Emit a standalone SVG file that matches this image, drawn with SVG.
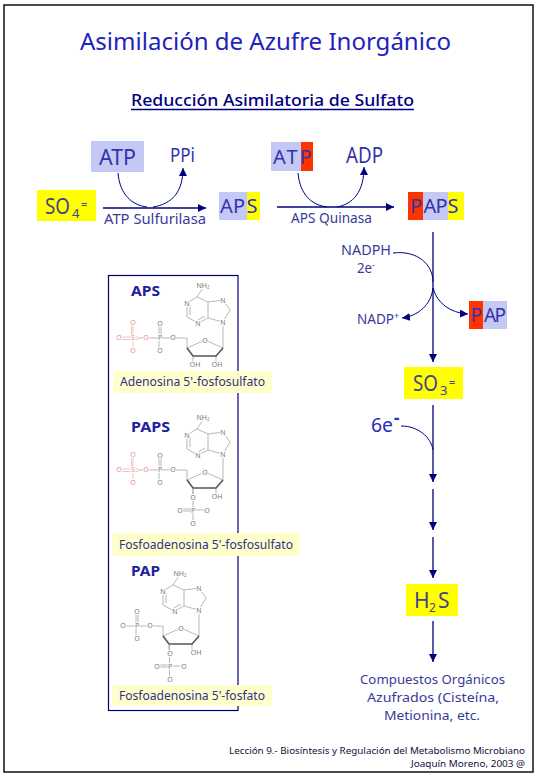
<svg xmlns="http://www.w3.org/2000/svg" width="540" height="780" viewBox="0 0 540 780">
<style>
text{font-family:"Noto Sans","DejaVu Sans",sans-serif;fill:#3333aa}
.big{font-size:21px}
.mid{font-size:14px;fill:#3a3a9a}
.cp{font-size:13px;fill:#3a3a9a}
.lab{font-size:13px;fill:#303088}
.hd{font-size:14px;font-weight:bold;fill:#2020a0}
.ft{font-size:9.500px;fill:#101040}
.at{font-size:7px;fill:#777;text-anchor:middle;paint-order:stroke;stroke:#fff;stroke-width:2px}
.rd{fill:#e88}
.bl{fill:#c4c8f4}.ye{fill:#ff0}.re{fill:#ff3300}.pa{fill:#ffffcc}
.cn{fill:none;stroke:#00007f;stroke-width:1.3}
.th{fill:none;stroke:#00007f;stroke-width:1}
.mb{fill:none;stroke:#999;stroke-width:.7}
.mr{fill:none;stroke:#eaa;stroke-width:.7}
.bd{fill:none;stroke:#555;stroke-width:1.600}
</style>
<defs>
<marker id="ah" markerUnits="userSpaceOnUse" markerWidth="9" markerHeight="9" refX="8" refY="4" orient="auto"><path d="M0 0L8 4L0 8Z" fill="#00007f"/></marker>
<g id="adeno">
<path class="mb" d="M203 288L197 297L187 303V317L198 323L208 318V302L197 297M190 305V315M198 320L205 316M208 302L223 300L230 310L223 322L208 318M223 322V348L205 340L187 348V338H173M193 356V362M216 356V362"/>
<path class="bd" d="M187 348L193 356H216L223 348"/>
</g>
</defs>
<rect width="540" height="780" fill="#fff"/>
<rect x="4" y="5" width="529" height="767" fill="none" stroke="#111" stroke-width="1.5"/>

<g id="title"><text x="80" y="50" font-size="24" textLength="371" lengthAdjust="spacingAndGlyphs" style="fill:#2222bb">Asimilación de Azufre Inorgánico</text></g>
<g id="subtitle"><text x="131" y="106" font-size="16" textLength="283" lengthAdjust="spacingAndGlyphs" style="fill:#000080;font-weight:500">Reducción Asimilatoria de Sulfato</text><path d="M131 109.500H414" stroke="#000080" stroke-width="1.3"/></g>

<g id="connectors">
<path class="cn" marker-end="url(#ah)" d="M103 208H206"/>
<path class="th" d="M118 173C120 195 132 205 147 207"/>
<path class="th" marker-end="url(#ah)" d="M153 207C172 204 183 192 183 168"/>
<path class="cn" marker-end="url(#ah)" d="M277 207H394"/>
<path class="th" d="M298 173C300 195 312 205 327 207"/>
<path class="th" marker-end="url(#ah)" d="M337 207C353 204 364 192 364 167"/>
<path class="cn" marker-end="url(#ah)" d="M433 232V362"/>
<path class="th" d="M393 253C418 250 433 265 433 282"/>
<path class="th" marker-end="url(#ah)" d="M433 288C431 305 418 316 402 318"/>
<path class="th" marker-end="url(#ah)" d="M433 288C437 303 450 313 468 314"/>
<path class="cn" marker-end="url(#ah)" d="M433 405V482"/>
<path class="th" d="M401 426C418 426 431 437 433 450"/>
<path class="cn" marker-end="url(#ah)" d="M433 489V530"/>
<path class="cn" marker-end="url(#ah)" d="M433 537V578"/>
<path class="cn" marker-end="url(#ah)" d="M433 621V662"/>
</g>

<g id="atp1"><rect class="bl" x="91" y="141" width="53" height="31"/><text class="big" x="99" y="165" textLength="37" lengthAdjust="spacingAndGlyphs">ATP</text></g>
<g id="ppi"><text x="170" y="162" font-size="19" textLength="25" lengthAdjust="spacingAndGlyphs">PPi</text></g>
<g id="so4"><rect class="ye" x="37" y="190" width="59" height="31"/><text class="big" x="45" y="214" textLength="25" lengthAdjust="spacingAndGlyphs" style="fill:#444488">SO</text><text x="72" y="218" font-size="13" style="fill:#444488">4</text><text x="81" y="208" font-size="11" style="fill:#444488">=</text></g>
<g id="aps"><rect class="bl" x="219" y="192" width="28" height="28"/><rect class="ye" x="247" y="192" width="13" height="28"/><text class="big" x="220 233 246.500" y="213" style="font-size:20px">APS</text></g>
<g id="atp-sulfurilasa"><text class="mid" x="104" y="224" textLength="102" lengthAdjust="spacingAndGlyphs">ATP Sulfurilasa</text></g>
<g id="atp2"><rect class="bl" x="271" y="142" width="30" height="29"/><rect class="re" x="301" y="142" width="12" height="29"/><text class="big" x="273 286.500 299.500" y="164" style="font-size:20px">ATP</text></g>
<g id="adp"><text class="big" x="346" y="163" textLength="37" lengthAdjust="spacingAndGlyphs">ADP</text></g>
<g id="aps-quinasa"><text class="mid" x="291" y="223" textLength="81" lengthAdjust="spacingAndGlyphs">APS Quinasa</text></g>
<g id="paps"><rect class="re" x="408" y="192" width="15" height="28"/><rect class="bl" x="423" y="192" width="25" height="28"/><rect class="ye" x="448" y="192" width="16" height="28"/><text class="big" x="410 423.500 435.500 447.500" y="213" style="font-size:20px">PAPS</text></g>
<g id="nadph"><text class="mid" x="341" y="255" textLength="50" lengthAdjust="spacingAndGlyphs">NADPH</text></g>
<g id="e2"><text class="mid" x="357" y="273" textLength="15" lengthAdjust="spacingAndGlyphs">2e</text><text class="mid" x="372" y="268" style="font-size:9px">-</text></g>
<g id="nadp"><text class="mid" x="357" y="324" textLength="37" lengthAdjust="spacingAndGlyphs">NADP</text><text class="mid" x="394" y="319" style="font-size:9px">+</text></g>
<g id="pap"><rect class="re" x="469" y="301" width="14" height="28"/><rect class="bl" x="483" y="301" width="24" height="28"/><text x="470.500 484 494.500" y="322" font-size="19">PAP</text></g>
<g id="so3"><rect class="ye" x="404" y="367" width="59" height="32"/><text class="big" x="413" y="391" textLength="25" lengthAdjust="spacingAndGlyphs" style="fill:#444488">SO</text><text x="440" y="395" font-size="13" style="fill:#444488">3</text><text x="449" y="386" font-size="11" style="fill:#444488">=</text></g>
<g id="e6"><text x="371" y="432" font-size="19" textLength="22" lengthAdjust="spacingAndGlyphs" style="fill:#2a2ab8">6e</text><text x="394" y="424" font-size="17" font-weight="bold" style="fill:#2a2ab8">-</text></g>
<g id="h2s"><rect class="ye" x="406" y="584" width="52" height="32"/><text class="big" x="414" y="608" style="fill:#444488">H</text><text x="429" y="612" font-size="12" style="fill:#444488">2</text><text class="big" x="438" y="608" style="fill:#444488">S</text></g>
<g id="compuestos">
<text class="cp" x="360" y="684" textLength="145" lengthAdjust="spacingAndGlyphs">Compuestos Orgánicos</text>
<text class="cp" x="367" y="702" textLength="132" lengthAdjust="spacingAndGlyphs">Azufrados (Cisteína,</text>
<text class="cp" x="384" y="720" textLength="96" lengthAdjust="spacingAndGlyphs">Metionina, etc.</text>
</g>

<g id="panel"><rect x="108.500" y="275.500" width="129.500" height="435" fill="none" stroke="#00007f" stroke-width="1.2"/></g>

<g id="mol-aps">
<text class="hd" x="131" y="296" textLength="29" lengthAdjust="spacingAndGlyphs">APS</text>
<use href="#adeno"/>
<path class="mr" d="M122 337H138M122 339.500H138M133 326V348M131.500 326V336"/>
<path class="mb" d="M138 338H173M159 326V350M161 326V336"/>
<text class="at" x="203" y="288">NH₂</text><text class="at" x="187" y="306">N</text><text class="at" x="198" y="326">N</text><text class="at" x="223" y="303">N</text><text class="at" x="223" y="325">N</text><text class="at" x="205" y="343">O</text><text class="at" x="195" y="367">OH</text><text class="at" x="217" y="367">OH</text>
<text class="at rd" x="119" y="340">O</text><text class="at rd" x="133" y="340">S</text><text class="at rd" x="133" y="325">O</text><text class="at rd" x="133" y="353">O</text><text class="at rd" x="146" y="340">O</text>
<text class="at" x="160" y="340">P</text><text class="at" x="173" y="340">O</text><text class="at" x="160" y="326">O</text><text class="at" x="160" y="353">O</text>
</g>
<g id="label-aps"><rect class="pa" x="113" y="371" width="159" height="22"/><text class="lab" x="120" y="386" textLength="145" lengthAdjust="spacingAndGlyphs">Adenosina 5'-fosfosulfato</text></g>

<g id="mol-paps">
<text class="hd" x="131" y="432" textLength="39" lengthAdjust="spacingAndGlyphs">PAPS</text>
<use href="#adeno" transform="translate(0 132)"/>
<path class="mr" d="M122 469H138M122 471.500H138M133 458V480M131.500 458V468"/>
<path class="mb" d="M138 470H173M159 458V482M161 458V468M193 488V523M180 509H193M180 511H193M193 510H207"/>
<text class="at" x="203" y="420">NH₂</text><text class="at" x="187" y="438">N</text><text class="at" x="198" y="458">N</text><text class="at" x="223" y="435">N</text><text class="at" x="223" y="457">N</text><text class="at" x="205" y="475">O</text><text class="at" x="217" y="499">OH</text>
<text class="at rd" x="119" y="472">O</text><text class="at rd" x="133" y="472">S</text><text class="at rd" x="133" y="457">O</text><text class="at rd" x="133" y="485">O</text><text class="at rd" x="146" y="472">O</text>
<text class="at" x="160" y="472">P</text><text class="at" x="173" y="472">O</text><text class="at" x="160" y="458">O</text><text class="at" x="160" y="485">O</text>
<text class="at" x="193" y="500">O</text><text class="at" x="193" y="513">P</text><text class="at" x="180" y="513">O</text><text class="at" x="207" y="513">O</text><text class="at" x="193" y="526">O</text>
</g>
<g id="label-paps"><rect class="pa" x="112" y="533" width="188" height="23"/><text class="lab" x="119" y="549" textLength="174" lengthAdjust="spacingAndGlyphs">Fosfoadenosina 5'-fosfosulfato</text></g>

<g id="mol-pap">
<text class="hd" x="131" y="576" textLength="29" lengthAdjust="spacingAndGlyphs">PAP</text>
<use href="#adeno" transform="translate(-24 288)"/>
<path class="mb" d="M125 626H149M136 614V637M138 614V624M169.500 644V679M157 665H170M157 667H170M170 666H184"/>
<text class="at" x="180" y="576">NH₂</text><text class="at" x="163" y="594">N</text><text class="at" x="175" y="614">N</text><text class="at" x="199" y="591">N</text><text class="at" x="199" y="613">N</text><text class="at" x="181" y="631">O</text><text class="at" x="196" y="655">OH</text>
<text class="at" x="123" y="628">O</text><text class="at" x="137" y="628">P</text><text class="at" x="150" y="628">O</text><text class="at" x="137" y="614">O</text><text class="at" x="137" y="641">O</text>
<text class="at" x="170" y="656">O</text><text class="at" x="170" y="669">P</text><text class="at" x="157" y="669">O</text><text class="at" x="184" y="669">O</text><text class="at" x="170" y="682">O</text>
</g>
<g id="label-pap"><rect class="pa" x="112" y="685" width="160" height="21"/><text class="lab" x="119" y="700" textLength="146" lengthAdjust="spacingAndGlyphs">Fosfoadenosina 5'-fosfato</text></g>

<g id="footer">
<text class="ft" x="229" y="754" textLength="296" lengthAdjust="spacingAndGlyphs">Lección 9.- Biosíntesis y Regulación del Metabolismo Microbiano</text>
<text class="ft" x="411" y="767" textLength="114" lengthAdjust="spacingAndGlyphs">Joaquín Moreno, 2003 @</text>
</g>
</svg>
